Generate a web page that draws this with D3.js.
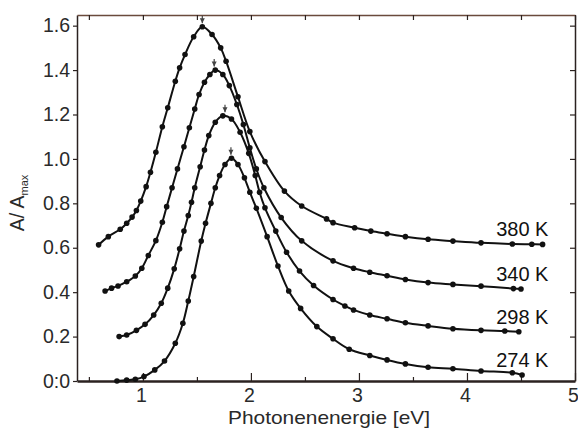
<!DOCTYPE html>
<html><head><meta charset="utf-8">
<script src="https://cdn.jsdelivr.net/npm/d3@7/dist/d3.min.js"></script>
<style>
html,body{margin:0;padding:0;background:#fff;}
svg{display:block;font-family:"Liberation Sans",Arial,sans-serif;}
</style></head>
<body><svg id="chart" width="578" height="430"></svg>
<script>
// ---- data (photon energy in eV, normalised absorbance A/Amax) ----
const seriesNames = ["380 K", "340 K", "298 K", "274 K"];
const e380 = [0.59,0.68,0.79,0.85,0.90,0.94,0.98,1.03,1.07,1.12,1.18,1.23,1.30,1.34,1.39,1.47,1.55,1.64,1.72,1.77,1.88,1.99,2.13,2.31,2.47,2.70,2.76,2.96,3.11,3.26,3.43,3.64,3.87,4.13,4.42,4.60,4.70];
const a380 = [0.613,0.65,0.683,0.71,0.738,0.768,0.81,0.875,0.94,1.03,1.145,1.23,1.35,1.41,1.47,1.55,1.595,1.56,1.50,1.44,1.28,1.123,0.988,0.855,0.788,0.73,0.713,0.69,0.675,0.663,0.65,0.638,0.63,0.622,0.617,0.616,0.615];
const e340 = [0.65,0.71,0.77,0.85,0.93,0.99,1.05,1.12,1.18,1.22,1.27,1.32,1.38,1.43,1.48,1.52,1.57,1.62,1.67,1.74,1.80,1.87,1.93,1.99,2.05,2.12,2.28,2.47,2.76,2.95,3.10,3.26,3.43,3.64,3.87,4.13,4.43,4.50];
const a340 = [0.405,0.418,0.428,0.447,0.473,0.508,0.565,0.632,0.715,0.785,0.87,0.955,1.055,1.14,1.225,1.29,1.345,1.38,1.40,1.38,1.33,1.245,1.155,1.05,0.955,0.87,0.736,0.631,0.541,0.508,0.49,0.474,0.457,0.443,0.435,0.427,0.416,0.414];
const e298 = [0.78,0.85,0.94,1.02,1.10,1.17,1.23,1.29,1.34,1.38,1.42,1.45,1.48,1.53,1.57,1.61,1.67,1.74,1.82,1.90,1.98,2.04,2.08,2.13,2.23,2.33,2.45,2.58,2.76,2.87,2.95,3.10,3.26,3.43,3.64,3.87,4.13,4.35,4.48];
const a298 = [0.20,0.207,0.228,0.255,0.297,0.35,0.418,0.505,0.595,0.675,0.745,0.805,0.87,0.965,1.04,1.105,1.165,1.194,1.18,1.12,1.025,0.925,0.85,0.78,0.675,0.58,0.495,0.43,0.367,0.338,0.32,0.297,0.28,0.262,0.248,0.235,0.228,0.225,0.222];
const e274 = [0.76,0.85,0.93,1.01,1.11,1.20,1.30,1.37,1.42,1.47,1.54,1.58,1.63,1.67,1.71,1.76,1.82,1.88,1.94,1.99,2.05,2.15,2.25,2.35,2.46,2.61,2.76,2.91,3.10,3.26,3.43,3.64,3.87,4.13,4.42,4.51];
const a274 = [0.0,0.004,0.008,0.02,0.05,0.09,0.17,0.26,0.36,0.47,0.63,0.71,0.80,0.87,0.925,0.975,1.003,0.975,0.915,0.85,0.778,0.65,0.518,0.405,0.327,0.245,0.19,0.143,0.115,0.095,0.077,0.062,0.055,0.045,0.037,0.027];
const peakEnergy = [1.55, 1.66, 1.76, 1.815];
const peakValue  = [1.595, 1.40, 1.194, 1.003];
const xMajorTicks = [1, 2, 3, 4, 5];
const xMinorTicks = [0.5, 1.5, 2.5, 3.5, 4.5];
const yTicks = [0, 0.2, 0.4, 0.6, 0.8, 1.0, 1.2, 1.4, 1.6];
const yTickLabels = ["0:0","0.2","0.4","0.6","0.8","1.0","1.2","1.4","1.6"];
const xTitle = "Photonenenergie [eV]";

// ---- layout ----
const L = 77, R = 575, T = 15, B = 381;
const x = d3.scaleLinear().domain([0.39, 5.0]).range([L, R]);
const y = d3.scaleLinear().domain([0, 1.648]).range([B, T]);
const svg = d3.select("#chart");
const frame = "#2b2220";
const txt = "#2a2a2a";

const series = [
  {name: seriesNames[0], e: e380, a: a380},
  {name: seriesNames[1], e: e340, a: a340},
  {name: seriesNames[2], e: e298, a: a298},
  {name: seriesNames[3], e: e274, a: a274}
].map(s => ({name: s.name, pts: s.e.map((v, i) => [v, s.a[i]])}));

// ---- axes ----
const gl = svg.append("g").attr("transform", `translate(${L},0)`)
  .call(d3.axisLeft(y).tickValues(yTicks).tickFormat((d, i) => yTickLabels[i])
    .tickSizeInner(4).tickSizeOuter(0).tickPadding(3));
const gr = svg.append("g").attr("transform", `translate(${R},0)`)
  .call(d3.axisLeft(y).tickValues(yTicks).tickFormat("").tickSizeInner(5).tickSizeOuter(0));
const gt = svg.append("g").attr("transform", `translate(0,${T})`)
  .call(d3.axisBottom(x).tickValues(xMajorTicks.concat(xMinorTicks)).tickFormat("").tickSizeInner(5).tickSizeOuter(0));
const gbm = svg.append("g").attr("transform", `translate(0,${B})`)
  .call(d3.axisBottom(x).tickValues(xMinorTicks).tickFormat("").tickSizeInner(-4).tickSizeOuter(0));
const gb = svg.append("g").attr("transform", `translate(0,${B})`)
  .call(d3.axisBottom(x).tickValues(xMajorTicks).tickFormat(d3.format("d")).tickSizeInner(-8).tickSizeOuter(0).tickPadding(7));

[gl, gr, gt, gb, gbm].forEach(g => {
  g.selectAll("path.domain").attr("stroke", frame).attr("stroke-width", 1.5);
  g.selectAll(".tick line").attr("stroke", frame).attr("stroke-width", 1.2);
  g.selectAll("text").attr("fill", txt).style("font-size", "19.5px")
    .style("font-family", '"Liberation Sans",Arial,sans-serif');
});
gb.selectAll("path.domain").attr("stroke-width", 2.5);
gbm.selectAll("path.domain").remove();
gt.selectAll("path.domain").attr("stroke", "#6a4a3c");
gb.selectAll("text").attr("dx", -2);

// ---- curves ----
const line = d3.line().x(d => x(d[0])).y(d => y(d[1])).curve(d3.curveCatmullRom.alpha(0.5));
const gs = svg.append("g");
series.forEach(s => {
  gs.append("path").attr("d", line(s.pts)).attr("fill", "none")
    .attr("stroke", "#111").attr("stroke-width", 2);
  gs.selectAll(null).data(s.pts).enter().append("circle")
    .attr("cx", d => x(d[0])).attr("cy", d => y(d[1])).attr("r", 2.8).attr("fill", "#111");
  const last = s.pts[s.pts.length - 1];
  svg.append("text").attr("x", x(4.27)).attr("y", y(last[1]) - 8)
    .attr("fill", "#111").style("font-size", "20px").text(s.name);
});

// peak arrows
peakEnergy.forEach((pe, i) => {
  const px = x(pe), top = y(peakValue[i] + 0.05), bot = y(peakValue[i] + 0.016);
  svg.append("line").attr("x1", px).attr("x2", px).attr("y1", top).attr("y2", bot)
    .attr("stroke", "#444").attr("stroke-width", 1.2);
  svg.append("path").attr("d", `M${px-2.5},${bot-5}L${px+2.5},${bot-5}L${px},${bot}Z`).attr("fill", "#444");
});

// ---- titles ----
svg.append("text").attr("x", 329).attr("y", 424).attr("text-anchor", "middle")
  .attr("fill", txt).style("font-size", "18.5px")
  .attr("textLength", 202).attr("lengthAdjust", "spacingAndGlyphs").text(xTitle);
const yt = svg.append("text").attr("transform", "translate(24,203) rotate(-90)")
  .attr("text-anchor", "middle").attr("fill", txt).style("font-size", "19.5px");
yt.append("tspan").text("A/ A");
yt.append("tspan").attr("dy", 4).style("font-size", "11px").text("max");
</script></body></html>
